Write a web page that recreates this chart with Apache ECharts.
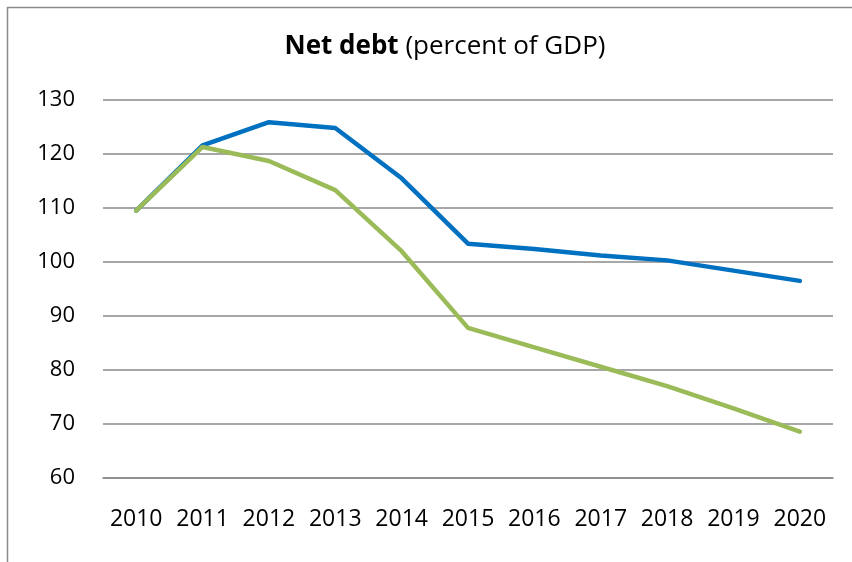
<!DOCTYPE html>
<html>
<head>
<meta charset="utf-8">
<script src="https://cdn.jsdelivr.net/npm/echarts@6/dist/echarts.min.js"></script>
<style>html,body{margin:0;padding:0;background:#fff;}#c{width:852px;height:562px;}</style>
</head>
<body>
<div id="c"></div>
<script>
const years = ['2010','2011','2012','2013','2014','2015','2016','2017','2018','2019','2020'];
const blueSeries = [109.5, 121.6, 125.9, 124.8, 115.5, 103.4, 102.4, 101.2, 100.3, 98.4, 96.5];
const greenSeries = [109.5, 121.3, 118.7, 113.3, 102.0, 87.8, 84.2, 80.6, 77.0, 72.9, 68.6];
const yTicks = {min: 60, max: 130, interval: 10};

const chart = echarts.init(document.getElementById('c'));
chart.setOption({
  animation: false,
  backgroundColor: '#fff',
  title: {
    text: '{b|Net debt} {n|(percent of GDP)}',
    left: 440, top: 29, textAlign: 'center',
    textStyle: {
      fontFamily: 'Open Sans', fontSize: 26, fontWeight: 'normal', color: '#000',
      rich: {
        b: {fontFamily: 'Open Sans', fontSize: 26, fontWeight: 'bold', color: '#000'},
        n: {fontFamily: 'Open Sans', fontSize: 26, fontWeight: 'normal', color: '#000'}
      }
    }
  },
  graphic: [{
    type: 'polyline', silent: true,
    shape: {points: [[7.5, 562], [7.5, 7.5], [852, 7.5]]},
    style: {stroke: '#8a8a8a', lineWidth: 1.5, fill: null}
  }],
  grid: {left: 103, right: 19, top: 100, bottom: 84},
  xAxis: {
    type: 'category', data: years, boundaryGap: true,
    axisLine: {show: true, lineStyle: {color: '#8a8a8a', width: 1.5}},
    axisTick: {show: false},
    axisLabel: {interval: 0, hideOverlap: false, margin: 30, fontFamily: 'Open Sans', fontSize: 23, color: '#000'}
  },
  yAxis: {
    type: 'value', min: yTicks.min, max: yTicks.max, interval: yTicks.interval,
    axisLine: {show: false}, axisTick: {show: false},
    splitLine: {lineStyle: {color: '#8a8a8a', width: 1.5}},
    axisLabel: {margin: 28, fontFamily: 'Open Sans', fontSize: 22, color: '#000'}
  },
  series: [
    {type: 'line', data: blueSeries, symbol: 'none', lineStyle: {color: '#0070C0', width: 4.5, cap: 'round', join: 'round'}, itemStyle: {color: '#0070C0'}},
    {type: 'line', data: greenSeries, symbol: 'none', lineStyle: {color: '#9BBB59', width: 4.5, cap: 'round', join: 'round'}, itemStyle: {color: '#9BBB59'}}
  ]
});
</script>
</body>
</html>
